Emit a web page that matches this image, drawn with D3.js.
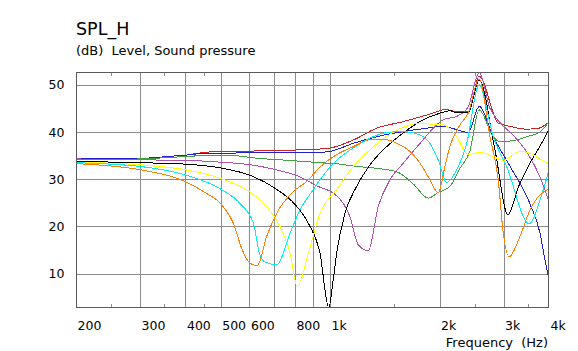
<!DOCTYPE html>
<html><head><meta charset="utf-8">
<script src="https://cdn.jsdelivr.net/npm/d3@7"></script>
<style>
html,body{margin:0;padding:0;background:#fff;}
text{font-family:"DejaVu Sans",Verdana,sans-serif;fill:#000;}
</style></head>
<body><svg id="c" width="578" height="351"></svg>
<script>
// ---- data ----
const title = "SPL_H";
const subtitle = "(dB)  Level, Sound pressure";
const xTitle = "Frequency  (Hz)";
const xTicks = [200, 300, 400, 500, 600, 800, 1000, 2000, 3000, 4000];
const xTickLabels = ["200", "300", "400", "500", "600", "800", "1k", "2k", "3k", "4k"];
const xGrid = [300, 400, 500, 600, 700, 800, 900, 1000, 2000, 3000];
const xMinor = [250, 350, 450, 1500, 2500, 3500];
const yTicks = [10, 20, 30, 40, 50];

const red = [[200,34.3],[300,34.4],[345,34.7],[370,34.9],[400,35.1],[417,35.3],[473,35.8],[640,36.0],[938,36.4],[1000,36.6],[1158,38.3],[1343,40.8],[1589,42.2],[1843,43.6],[2005,44.5],[2070,44.8],[2229,44.3],[2398,44.3],[2570,51.8],[2900,41.9],[3123,41.2],[3472,40.6],[3750,40.8],[4000,42.1]];
const blue = [[200,34.3],[300,34.4],[344,34.7],[370,34.9],[400,35.1],[448,35.45],[641,35.6],[938,35.7],[1000,35.9],[1158,37.6],[1343,39.0],[1589,40.1],[1843,40.8],[2005,41.2],[2047,41.2],[2229,40.5],[2398,39.9],[2570,45.4],[2810,39.0],[3100,33.2],[3546,24.8],[3778,18.6],[3899,12.9],[4000,8.8]];
const green = [[200,34.1],[300,34.3],[400,34.8],[450,35.0],[540,35.0],[620,34.5],[800,33.9],[938,33.5],[1064,33.2],[1158,32.8],[1343,32.3],[1524,31.6],[1693,29.0],[1862,26.0],[1983,27.2],[2136,28.5],[2276,32.3],[2424,36.0],[2570,44.7],[2810,39.0],[2932,37.9],[3190,38.2],[3546,39.2],[3778,40.0],[4000,42.2]];
const purple = [[200,34.3],[301,34.1],[400,34.0],[503,33.6],[599,33.1],[702,32.1],[802,30.9],[938,28.3],[1020,27.1],[1087,24.9],[1134,22.1],[1195,16.1],[1274,14.9],[1356,24.2],[1461,29.9],[1589,33.4],[1767,37.6],[1964,41.5],[2047,42.6],[2229,43.3],[2398,45.3],[2570,52.6],[2752,45.0],[2932,42.0],[3190,39.3],[3472,35.8],[3778,30.5],[4000,25.3]];
const black = [[200,33.8],[301,33.5],[400,33.2],[503,32.35],[599,30.9],[702,28.2],[802,24.6],[871,20.7],[938,14.3],[991,2.9],[1020,8.7],[1042,14.3],[1099,22.8],[1183,28.5],[1287,33.05],[1431,36.9],[1589,39.8],[1767,42.2],[2005,44.0],[2136,44.5],[2229,44.1],[2398,44.1],[2570,51.0],[2841,36.2],[3084,22.5],[3300,28.5],[3546,33.4],[3778,37.0],[4000,40.5]];
const yellow = [[200,33.6],[301,33.05],[400,32.0],[503,30.1],[599,27.4],[669,24.2],[728,20.0],[776,14.3],[812,7.3],[871,14.3],[938,22.8],[1042,27.8],[1158,32.7],[1287,36.2],[1431,39.1],[1589,41.0],[1767,41.9],[1964,41.5],[2047,41.5],[2229,39.0],[2398,35.2],[2584,35.7],[2810,34.8],[2994,34.0],[3328,35.9],[3546,35.5],[3778,34.3],[4000,33.1]];
const cyan = [[200,33.5],[301,32.7],[400,30.9],[503,27.8],[565,24.9],[615,20.7],[641,14.0],[662,12.5],[713,11.9],[776,18.6],[826,23.5],[899,27.8],[938,29.9],[1042,34.0],[1158,36.6],[1287,38.7],[1431,39.9],[1589,40.1],[1767,39.4],[1882,37.6],[1983,34.1],[2091,29.3],[2229,32.0],[2375,37.6],[2570,50.0],[2810,39.0],[3058,32.7],[3530,20.6],[3778,25.6],[4000,32.0]];
const orange = [[200,33.3],[301,32.0],[400,29.5],[448,27.4],[503,24.6],[542,20.7],[571,15.4],[596,12.6],[630,11.65],[669,17.9],[713,22.8],[792,27.4],[862,29.5],[938,32.6],[1042,35.2],[1158,36.9],[1287,38.35],[1431,38.35],[1524,37.6],[1658,35.9],[1767,33.4],[1882,29.9],[1983,27.1],[2069,32.7],[2136,37.0],[2276,41.5],[2398,44.0],[2570,51.2],[2752,39.0],[2900,29.9],[2994,18.6],[3109,13.6],[3328,17.9],[3546,23.5],[3778,26.7],[4000,27.9]];

const seriesList = [red, blue, green, purple, black, yellow, cyan, orange];
const seriesColors = ["#d02020", "#2020d0", "#40a040", "#b050b0", "#000000", "#ffff00", "#00f0f0", "#ff8000"];

// ---- layout ----
const L = 76, R = 549, T = 72, B = 308;
const svg = d3.select("#c");
const x = d3.scaleLog().domain([200, 4000]).range([L, R]);
const y = d3.scaleLinear().domain([2.75, 52.7]).range([B, T]);
const px = v => Math.round(v) + 0.5;

// grid
const g = svg.append("g");
g.selectAll("line.vg").data(xGrid).join("line")
  .attr("x1", d => px(x(d))).attr("x2", d => px(x(d)))
  .attr("y1", T).attr("y2", B)
  .attr("stroke", "#8c8c8c").attr("stroke-width", 1);
g.selectAll("line.hg").data(yTicks).join("line")
  .attr("x1", L).attr("x2", R)
  .attr("y1", d => px(y(d))).attr("y2", d => px(y(d)))
  .attr("stroke", "#8c8c8c").attr("stroke-width", 1);
// minor ticks top & bottom
g.selectAll("line.mt").data(xMinor).join("line")
  .attr("x1", d => px(x(d))).attr("x2", d => px(x(d)))
  .attr("y1", T).attr("y2", T + 4)
  .attr("stroke", "#8c8c8c");
g.selectAll("line.mb").data(xMinor).join("line")
  .attr("x1", d => px(x(d))).attr("x2", d => px(x(d)))
  .attr("y1", B - 4).attr("y2", B)
  .attr("stroke", "#8c8c8c");

// clip
svg.append("clipPath").attr("id", "clip").append("rect")
  .attr("x", L).attr("y", T).attr("width", R - L).attr("height", B - T);

const line = d3.line().x(d => x(d[0])).y(d => y(d[1])).curve(d3.curveMonotoneX);
const lg = svg.append("g").attr("clip-path", "url(#clip)");
seriesList.forEach((s, i) => {
  lg.append("path").datum(s).attr("d", line)
    .attr("fill", "none").attr("stroke", seriesColors[i]).attr("stroke-width", 1)
    .attr("shape-rendering", "crispEdges");
});

// frame
svg.append("rect").attr("x", L + 0.5).attr("y", T + 0.5)
  .attr("width", R - L - 1).attr("height", B - T - 1)
  .attr("fill", "none").attr("stroke", "#5a5a5a").attr("stroke-width", 1);

// axes (labels via d3 axis generators)
const xAxis = d3.axisBottom(x).tickValues(xTicks)
  .tickFormat((d, i) => xTickLabels[i]).tickSize(0).tickPadding(0);
const xa = svg.append("g").attr("transform", `translate(0,${B})`).call(xAxis);
xa.select(".domain").remove();
xa.selectAll("text").attr("text-anchor", "start").attr("dx", 1)
  .attr("y", 22).attr("dy", 0).style("font-size", "12.5px").style("font-family", "DejaVu Sans");

const yAxis = d3.axisLeft(y).tickValues(yTicks).tickSize(0).tickPadding(0);
const ya = svg.append("g").attr("transform", `translate(${L - 11.5},0)`).call(yAxis);
ya.select(".domain").remove();
ya.selectAll("text").style("font-size", "12.5px").style("font-family", "DejaVu Sans");

// titles
svg.append("text").attr("x", 76).attr("y", 34.5).style("font-size", "17.5px").text(title);
svg.append("text").attr("x", 76).attr("y", 55).style("font-size", "13px")
  .style("white-space", "pre").text(subtitle);
svg.append("text").attr("x", 548).attr("y", 347).attr("text-anchor", "end")
  .style("font-size", "13px").style("white-space", "pre").text(xTitle);
</script></body></html>
